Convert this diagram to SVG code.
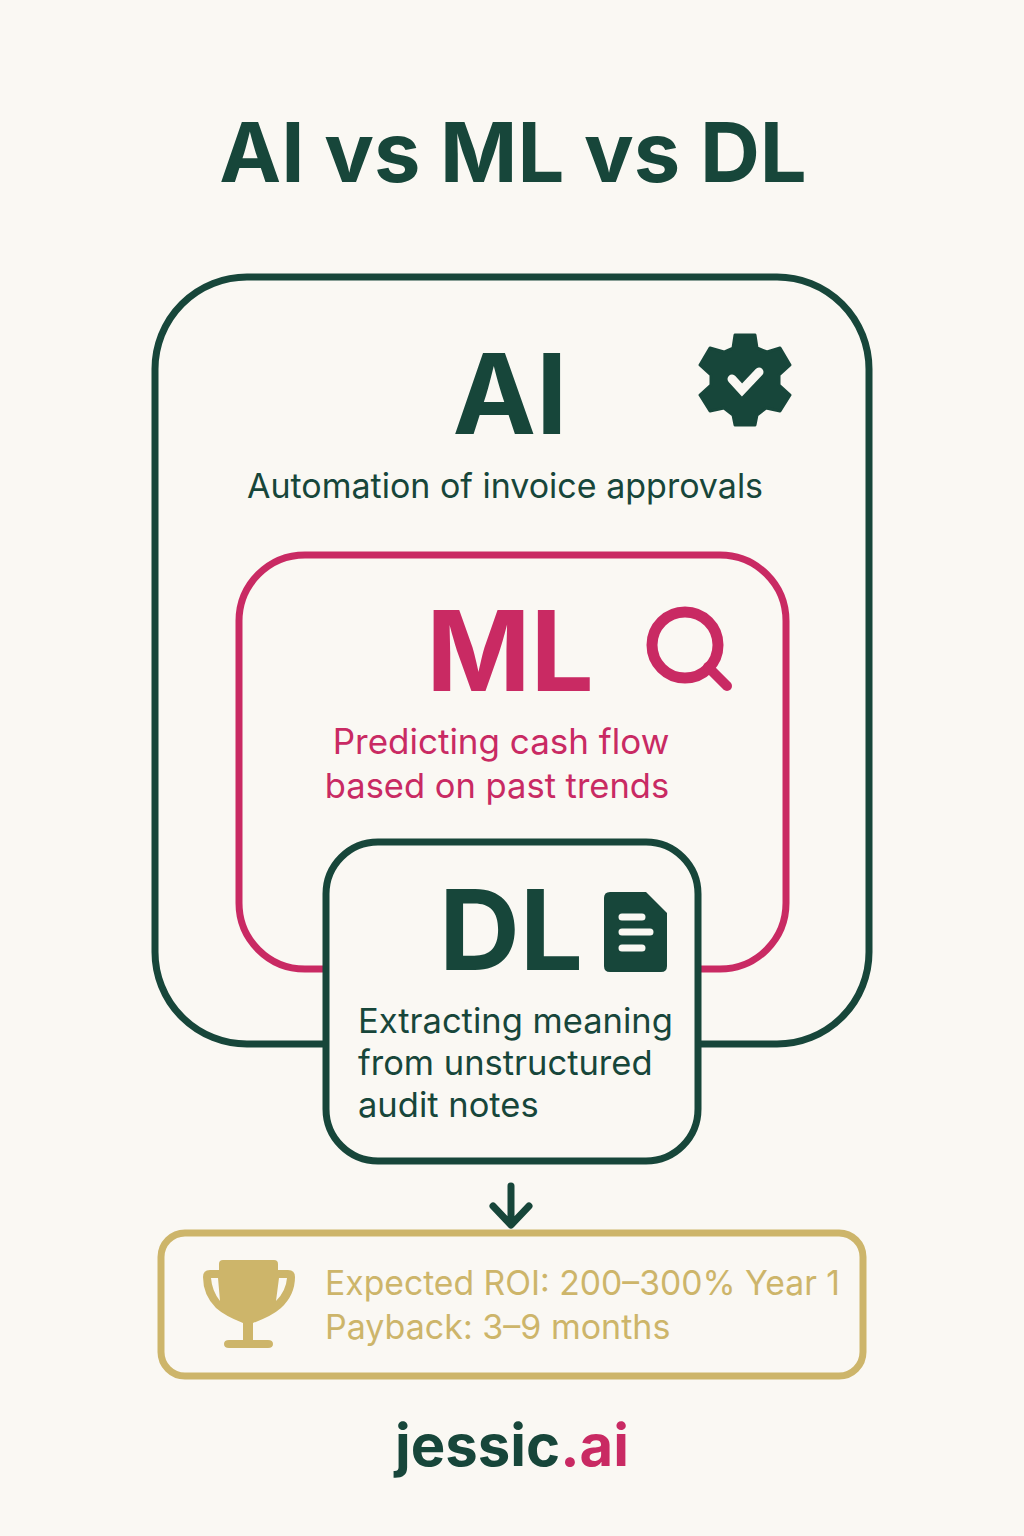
<svg xmlns="http://www.w3.org/2000/svg" width="1024" height="1536" viewBox="0 0 1024 1536">
<style>
text{font-family:Inter,"Liberation Sans",sans-serif}
.g{fill:#17463a}.r{fill:#c92a63}.y{fill:#cdb56a}
.box{fill:#faf8f3;stroke-width:7}
.b{font-weight:660}
.h{font-size:112px}
.d{font-size:34.500px}
.o{font-size:33.700px}
</style>
<rect width="1024" height="1536" fill="#faf8f3"/>
<text id="title" class="g" font-weight="700" x="513" y="182" font-size="83" text-anchor="middle">AI vs ML vs DL</text>
<g id="ai">
<rect class="box" x="155" y="277" width="714" height="767" rx="92" stroke="#17463a"/>
<text class="g b h" x="510" y="434" text-anchor="middle">AI</text>
<text class="g" font-size="34" x="505" y="498" text-anchor="middle">Automation of invoice approvals</text>
<path class="g" stroke="#17463a" stroke-width="3" stroke-linejoin="round" fill-rule="evenodd" d="M735 335H755L757 348L767 352L780 348L790 365L779 375V385L790 395L780 411L766 408L757 415L755 425H735L733 415L724 408L710 411L700 395L711 385V375L700 365L710 348L724 352L733 348Z"/>
<path d="M732 379L742 390L759 372" fill="none" stroke="#faf8f3" stroke-width="9" stroke-linecap="round" stroke-linejoin="miter"/>
</g>
<g id="ml">
<rect class="box" x="239" y="555" width="547" height="414" rx="66" stroke="#c92a63"/>
<text class="r b h" x="510" y="691" text-anchor="middle">ML</text>
<text class="r" font-size="35" x="501" y="754" text-anchor="middle">Predicting cash flow</text>
<text class="r d" x="497" y="798" text-anchor="middle">based on past trends</text>
<circle cx="685" cy="645" r="33" fill="none" stroke="#c92a63" stroke-width="11"/>
<path d="M708 667L727 686" fill="none" stroke="#c92a63" stroke-width="10" stroke-linecap="round"/>
</g>
<g id="dl">
<rect class="box" x="326" y="842" width="372" height="319" rx="52" stroke="#17463a"/>
<text class="g b h" x="511" y="970" text-anchor="middle">DL</text>
<text class="g d"><tspan x="358" y="1033">Extracting meaning</tspan><tspan x="358" y="1075">from unstructured</tspan><tspan x="358" y="1117">audit notes</tspan></text>
<path class="g" d="M610 892H646L667 913V966Q667 972 661 972H610Q604 972 604 966V898Q604 892 610 892Z"/>
<g stroke="#faf8f3" stroke-width="7" stroke-linecap="round"><path d="M622 917H642M622 932H650M622 948H642"/></g>
</g>
<g id="connectors">
<path d="M511 1186V1224M493 1206L511 1225L529 1206" fill="none" stroke="#17463a" stroke-width="7" stroke-linecap="round" stroke-linejoin="round"/>
</g>
<g id="roi">
<rect class="box" x="161" y="1233" width="702" height="143" rx="24" stroke="#cdb56a"/>
<text class="y o" x="325" y="1295">Expected ROI: 200–300% Year 1</text>
<text class="y" font-size="34" x="325" y="1339">Payback: 3–9 months</text>
<path class="y" fill-rule="evenodd" d="M219 1270V1264Q219 1260 223 1260H274Q278 1260 278 1264V1270H288Q295 1270 295 1277Q295 1295 281 1308Q272 1316 253 1323V1340H268Q273 1340 273 1344Q273 1348 268 1348H229Q224 1348 224 1344Q224 1340 229 1340H243V1323Q225 1316 216 1308Q203 1295 203 1277Q203 1270 210 1270ZM211 1278Q212 1291 220 1301L218 1278ZM287 1278H279L276 1301Q286 1291 287 1278Z"/>
</g>
<g id="logo">
<text x="512" y="1466" font-size="58" text-anchor="middle" font-weight="700"><tspan class="g">jessic</tspan><tspan class="r">.ai</tspan></text>
</g>
</svg>
